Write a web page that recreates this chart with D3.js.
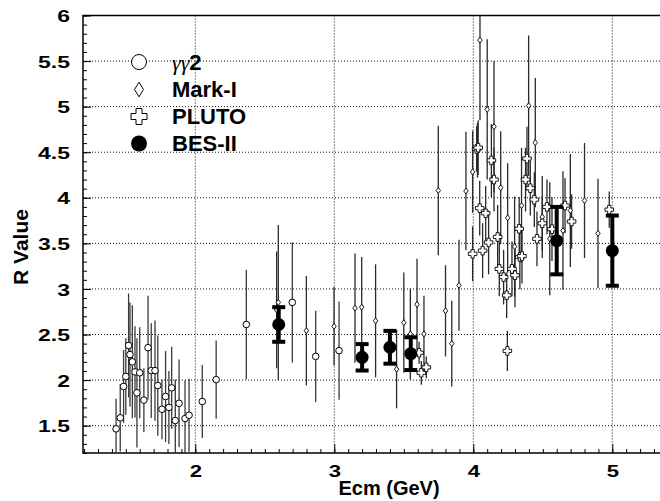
<!DOCTYPE html>
<html>
<head>
<meta charset="utf-8">
<title>R Value</title>
<script src="https://cdn.jsdelivr.net/npm/d3@7/dist/d3.min.js"></script>
<style>
  body { margin: 0; background: #fff; }
  text { font-family: "Liberation Sans", Arial, sans-serif; font-weight: bold; fill: #000; }
</style>
</head>
<body>
<script>
// gamma gamma 2
var gg2Ecm = [1.43,1.46,1.484,1.50,1.52,1.53,1.547,1.566,1.58,1.60,1.63,1.66,1.683,1.71,1.73,1.76,1.786,1.81,1.83,1.856,1.883,1.926,1.955,2.05,2.15,2.367,2.698,2.866,3.034];
var gg2R   = [1.465,1.586,1.93,2.04,2.38,2.28,2.20,2.09,1.86,2.08,1.78,2.356,2.104,2.104,1.94,1.68,1.82,1.70,1.915,1.556,1.745,1.578,1.614,1.765,2.005,2.61,2.852,2.26,2.323];
var gg2Err = [0.33,0.37,0.40,0.42,0.57,0.57,0.62,0.50,0.60,0.50,0.35,0.57,0.52,0.55,0.55,0.33,0.50,0.40,0.45,0.45,0.48,0.42,0.40,0.40,0.43,0.60,0.66,0.50,0.54];

// Mark-I
var markEcm = [2.585,2.597,2.799,2.998,3.149,3.197,3.297,3.448,3.50,3.547,3.595,3.645,3.748,3.80,3.845,3.897,3.947,3.995,4.03,4.048,4.10,4.149,4.197,4.247,4.297,4.347,4.398,4.446,4.496,4.55,4.645,4.698,4.80,4.897];
var markR   = [2.77,2.852,2.542,2.59,2.79,2.80,2.65,2.12,2.63,2.506,2.83,2.506,4.08,2.76,2.40,3.04,4.075,4.285,4.52,5.73,4.97,4.78,4.11,3.78,3.465,3.915,5.01,4.605,3.79,3.55,3.64,3.86,3.97,3.61];
var markErr = [0.64,0.85,0.60,0.43,0.60,0.55,0.62,0.43,0.55,0.50,0.50,0.42,0.71,0.50,0.47,0.50,0.65,0.45,0.30,0.88,0.77,0.72,0.62,0.60,0.55,0.63,0.77,0.71,0.45,0.62,0.65,0.62,0.63,0.60];

// PLUTO
var plutoEcm = [3.61,3.626,3.662,3.995,4.024,4.035,4.046,4.067,4.089,4.11,4.13,4.149,4.175,4.187,4.218,4.24,4.245,4.278,4.30,4.33,4.335,4.35,4.376,4.386,4.41,4.439,4.458,4.496,4.53,4.566,4.66,4.707,4.978];
var plutoR   = [2.30,2.08,2.14,3.385,4.536,4.55,3.886,3.42,3.83,3.51,4.41,4.20,3.57,3.22,3.13,2.93,2.32,3.22,3.15,3.66,3.35,3.36,4.20,4.43,4.105,3.98,3.55,3.72,3.90,3.656,3.915,3.74,3.87];
var plutoErr = [0.12,0.13,0.12,0.30,0.25,0.30,0.30,0.30,0.30,0.35,0.40,0.35,0.35,0.30,0.30,0.25,0.22,0.30,0.35,0.35,0.35,0.30,0.35,0.35,0.30,0.30,0.30,0.30,0.30,0.35,0.30,0.30,0.20];

// BES-II
var besEcm = [2.6,3.2,3.4,3.55,4.6,5.0];
var besR   = [2.61,2.25,2.36,2.29,3.53,3.42];
var besErr = [0.19,0.145,0.18,0.18,0.37,0.385];

var xTicks = [2,3,4,5];
var yTicks = [1.5,2,2.5,3,3.5,4,4.5,5,5.5,6];
var legendNames = ["\u03b3\u03b32", "Mark-I", "PLUTO", "BES-II"];

var W = 660, H = 501;
var pL = 83, pR = 661, pT = 15.5, pB = 453;

var svg = d3.select("body").append("svg")
    .attr("width", W)
    .attr("height", H);

var x = d3.scaleLinear().domain([1.192, 5.35]).range([pL, pL + (5.35 - 1.192) * 139]);
var y = d3.scaleLinear().domain([1.2, 6]).range([pB, pT]);

function zip(a, b, c) { return a.map(function(d, i) { return {e: d, r: b[i], err: c[i]}; }); }
var gg2 = zip(gg2Ecm, gg2R, gg2Err);
var mark = zip(markEcm, markR, markErr);
var pluto = zip(plutoEcm, plutoR, plutoErr);
var bes = zip(besEcm, besR, besErr);

svg.append("clipPath").attr("id", "plot")
  .append("rect").attr("x", pL).attr("y", pT).attr("width", pR - pL).attr("height", pB - pT);

// grid
var grid = svg.append("g").attr("stroke", "#111").attr("stroke-width", 1).attr("stroke-dasharray", "1,2");
grid.selectAll(".gx").data(xTicks).enter().append("line")
    .attr("x1", function(d) { return x(d); }).attr("x2", function(d) { return x(d); })
    .attr("y1", pT).attr("y2", pB);
grid.selectAll(".gy").data(yTicks.slice(0, -1)).enter().append("line")
    .attr("x1", pL).attr("x2", pR)
    .attr("y1", function(d) { return y(d); }).attr("y2", function(d) { return y(d); });

// minor ticks
var xMinor = d3.range(12, 54).map(function(d) { return d / 10; });
var yMinor = d3.range(12, 61).map(function(d) { return d / 10; });
svg.append("g").attr("transform", "translate(0," + pB + ")")
    .call(d3.axisBottom(x).tickValues(xMinor).tickSize(-4).tickFormat(""))
    .call(function(g) { g.select(".domain").remove(); });
svg.append("g").attr("transform", "translate(" + pL + ",0)")
    .call(d3.axisLeft(y).tickValues(yMinor).tickSize(-4).tickFormat(""))
    .call(function(g) { g.select(".domain").remove(); });

// major axes with labels
var xAxis = svg.append("g").attr("transform", "translate(0," + pB + ")")
    .call(d3.axisBottom(x).tickValues(xTicks).tickSize(-9).tickFormat(function(d) { return d; }));
xAxis.select(".domain").remove();
xAxis.selectAll("text").attr("y", 0).attr("dy", 0)
    .attr("transform", "translate(0,24) scale(1.3,1)")
    .style("font-size", "17px");

var yAxis = svg.append("g").attr("transform", "translate(" + pL + ",0)")
    .call(d3.axisLeft(y).tickValues(yTicks).tickSize(-8).tickFormat(function(d) { return d; }));
yAxis.select(".domain").remove();
yAxis.selectAll("text").attr("x", 0).attr("dy", "0.36em")
    .attr("transform", "translate(-13,0) scale(1.35,1)")
    .style("font-size", "17px");
svg.selectAll(".tick line").attr("stroke", "#000");

// frame
svg.append("rect").attr("x", pL).attr("y", pT).attr("width", pR - pL).attr("height", pB - pT)
    .attr("fill", "none").attr("stroke", "#000").attr("stroke-width", 1.5);

// error bars
var bars = svg.append("g").attr("clip-path", "url(#plot)");
function errBars(data, col, w) {
  bars.append("g").selectAll("line").data(data).enter().append("line")
    .attr("x1", function(d) { return x(d.e); }).attr("x2", function(d) { return x(d.e); })
    .attr("y1", function(d) { return y(d.r + d.err); })
    .attr("y2", function(d) { return y(d.r - d.err); })
    .attr("stroke", col).attr("stroke-width", w);
}
errBars(gg2, "#3a3a3a", 1.3);
errBars(mark, "#2a2a2a", 1.3);
errBars(pluto, "#2a2a2a", 1.3);

function crossPath(L, a) {
  return "M" + (-a) + "," + (-L) + "h" + (2 * a) + "v" + (L - a) + "h" + (L - a) + "v" + (2 * a) +
    "h" + (a - L) + "v" + (L - a) + "h" + (-2 * a) + "v" + (a - L) + "h" + (a - L) + "v" + (-2 * a) + "h" + (L - a) + "Z";
}
function diamondPath(w, h) {
  return "M0," + (-h) + "L" + w + ",0L0," + h + "L" + (-w) + ",0Z";
}

// markers
var marks = svg.append("g").attr("clip-path", "url(#plot)");
marks.append("g").selectAll("circle").data(gg2).enter().append("circle")
    .attr("cx", function(d) { return x(d.e); }).attr("cy", function(d) { return y(d.r); })
    .attr("r", 3.3).attr("fill", "#fff").attr("stroke", "#000").attr("stroke-width", 1);
marks.append("g").selectAll("path").data(mark).enter().append("path")
    .attr("transform", function(d) { return "translate(" + x(d.e) + "," + y(d.r) + ")"; })
    .attr("d", diamondPath(2.2, 3)).attr("fill", "#fff").attr("stroke", "#000").attr("stroke-width", 0.9);
marks.append("g").selectAll("path").data(pluto).enter().append("path")
    .attr("transform", function(d) { return "translate(" + x(d.e) + "," + y(d.r) + ")"; })
    .attr("d", crossPath(4.3, 1.6)).attr("fill", "#fff").attr("stroke", "#000").attr("stroke-width", 0.9);

// BES-II
var besG = svg.append("g");
besG.selectAll(".bar").data(bes).enter().append("line")
    .attr("x1", function(d) { return x(d.e); }).attr("x2", function(d) { return x(d.e); })
    .attr("y1", function(d) { return y(d.r + d.err); }).attr("y2", function(d) { return y(d.r - d.err); })
    .attr("stroke", "#000").attr("stroke-width", 4);
[1, -1].forEach(function(s) {
  besG.selectAll(".cap" + s).data(bes).enter().append("line")
    .attr("x1", function(d) { return x(d.e) - 6.5; }).attr("x2", function(d) { return x(d.e) + 6.5; })
    .attr("y1", function(d) { return y(d.r + s * d.err); }).attr("y2", function(d) { return y(d.r + s * d.err); })
    .attr("stroke", "#000").attr("stroke-width", 4);
});
besG.selectAll("circle").data(bes).enter().append("circle")
    .attr("cx", function(d) { return x(d.e); }).attr("cy", function(d) { return y(d.r); })
    .attr("r", 6.5).attr("fill", "#000");

// legend
var leg = svg.append("g");
var legY = [69.5, 97, 124, 151];
legendNames.forEach(function(name, i) {
  var cy = legY[i] - 7.5;
  if (i === 0) leg.append("circle").attr("cx", 139).attr("cy", cy).attr("r", 7.5)
      .attr("fill", "#fff").attr("stroke", "#000").attr("stroke-width", 1);
  if (i === 1) leg.append("path").attr("transform", "translate(139," + cy + ")")
      .attr("d", diamondPath(4.5, 7.3)).attr("fill", "#fff").attr("stroke", "#000").attr("stroke-width", 1);
  if (i === 2) leg.append("path").attr("transform", "translate(139," + cy + ")")
      .attr("d", crossPath(8, 3)).attr("fill", "#fff").attr("stroke", "#000").attr("stroke-width", 1);
  if (i === 3) leg.append("circle").attr("cx", 139).attr("cy", cy).attr("r", 8).attr("fill", "#000");
  var t = leg.append("text").attr("x", 172).attr("y", legY[i]).style("font-size", "22px");
  if (i === 0) {
    t.append("tspan").text(name.slice(0, 2))
      .style("font-family", "'Liberation Serif', 'DejaVu Serif', serif").style("font-style", "italic")
      .style("font-weight", "normal");
    t.append("tspan").text(name.slice(2));
  } else {
    t.text(name);
  }
});

// axis titles
svg.append("text").attr("x", 389).attr("y", 495).attr("text-anchor", "middle")
    .style("font-size", "20px").text("Ecm (GeV)");
svg.append("text").attr("transform", "translate(28,247) rotate(-90)").attr("text-anchor", "middle")
    .style("font-size", "21px").text("R Value");
</script>
</body>
</html>
